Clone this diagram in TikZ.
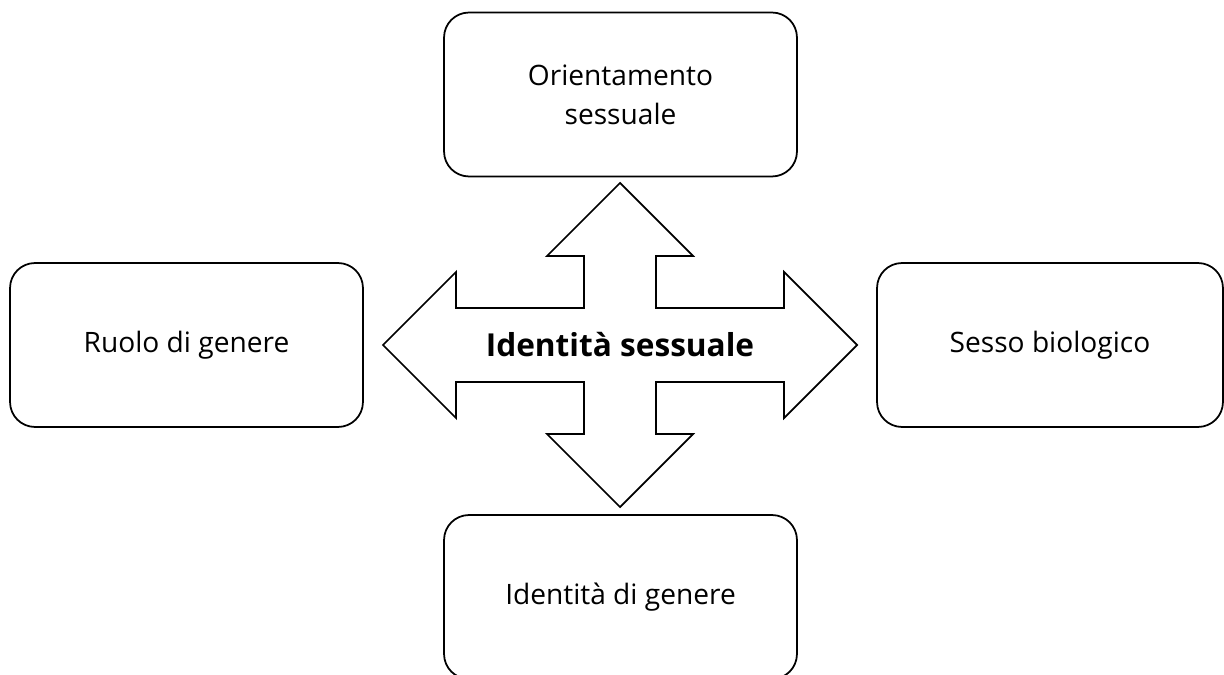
\documentclass[tikz,border=0pt]{standalone}
\usepackage{fontspec}
\setmainfont{Open Sans}
\begin{document}
\begin{tikzpicture}[x=0.02cm,y=-0.02cm,
  box/.style={draw, line width=1pt, rounded corners=0.5cm, minimum width=7.06cm,
    minimum height=3.28cm, align=center, font=\fontsize{16}{22}\selectfont},
  cross/.style={draw, line width=1pt, line join=miter}]
\useasboundingbox (0,0) rectangle (1224,675);
% four-way arrow
\begin{scope}[shift={(620,345)}]
\draw[cross] (0,-162) -- (73,-89) -- (36,-89) -- (36,-37) -- (164,-37) -- (164,-73)
  -- (237,0) -- (164,73) -- (164,37) -- (36,37) -- (36,89) -- (73,89)
  -- (0,162) -- (-73,89) -- (-36,89) -- (-36,37) -- (-164,37) -- (-164,73)
  -- (-237,0) -- (-164,-73) -- (-164,-37) -- (-36,-37) -- (-36,-89) -- (-73,-89) -- cycle;
\end{scope}
\node[font=\fontsize{18}{20}\selectfont\bfseries] (core) at (620,345) {Identità sessuale};
% boxes
\node[box] (orient) at (620.5,94.5) {Orientamento\\sessuale};
\node[box] (ruolo) at (186.5,345) {Ruolo di genere};
\node[box, minimum width=6.92cm] (sesso) at (1050,345) {Sesso biologico};
\node[box] (ident) at (620.5,597) {Identità di genere};
\end{tikzpicture}
\end{document}
